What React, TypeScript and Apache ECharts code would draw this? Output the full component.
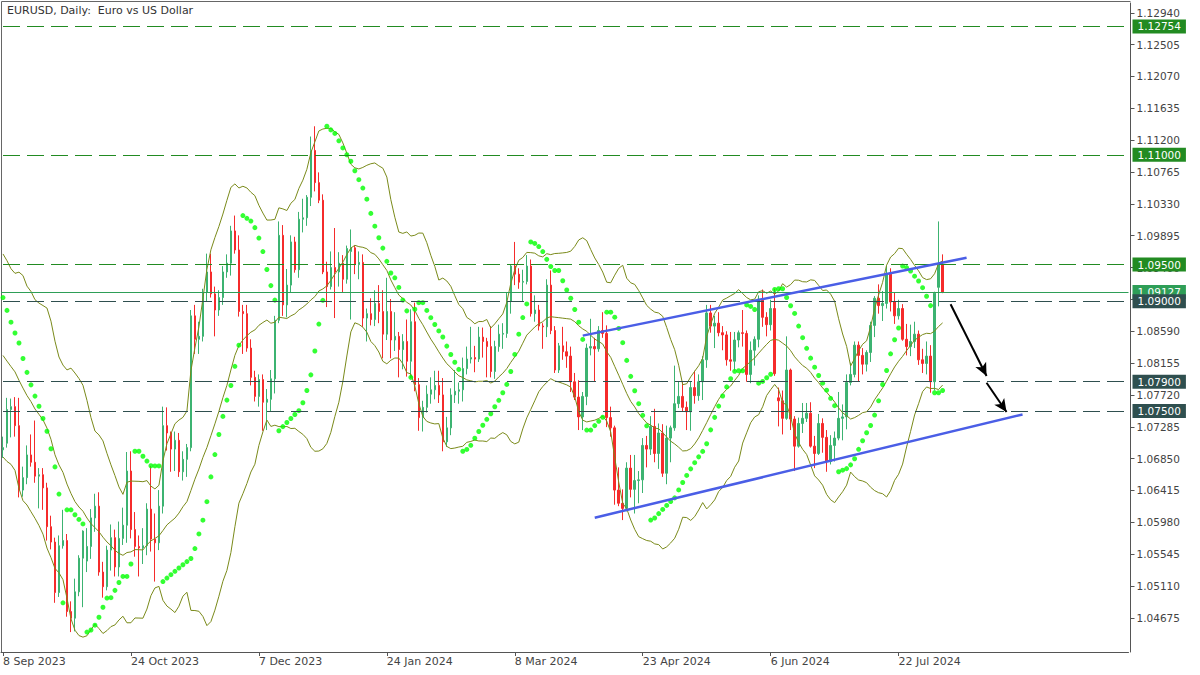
import React, { useEffect, useRef } from 'react';
import * as echarts from 'echarts';

// ---- daily OHLC (EURUSD, from 8 Sep 2023) ----
const opens = [
  1.0697, 1.0706, 1.0752, 1.0756, 1.0730, 1.0642, 1.0659, 1.0690, 1.0680, 1.0661,
  1.0663, 1.0645, 1.0592, 1.0571, 1.0502, 1.0566, 1.0573, 1.0476, 1.0467, 1.0503,
  1.0549, 1.0545, 1.0565, 1.0604, 1.0620, 1.0530, 1.0510, 1.0560, 1.0577, 1.0537,
  1.0576, 1.0594, 1.0668, 1.0588, 1.0565, 1.0563, 1.0566, 1.0616, 1.0575, 1.0570,
  1.0620, 1.0730, 1.0720, 1.0698, 1.0710, 1.0667, 1.0684, 1.0700, 1.0880, 1.0848,
  1.0852, 1.0912, 1.0940, 1.0910, 1.0888, 1.0905, 1.0940, 1.0952, 1.0996, 1.0970,
  1.0886, 1.0883, 1.0836, 1.0796, 1.0770, 1.0793, 1.0762, 1.0766, 1.0794, 1.0874,
  1.0990, 1.0895, 1.0922, 1.0981, 1.0943, 1.1012, 1.1014, 1.1042, 1.1106, 1.1062,
  1.1038, 1.0940, 1.0920, 1.0946, 1.0940, 1.0952, 1.0930, 1.0968, 1.0973, 1.0950,
  1.0953, 1.0877, 1.0883, 1.0875, 1.0897, 1.0886, 1.0855, 1.0886, 1.0847, 1.0852,
  1.0834, 1.0845, 1.0818, 1.0872, 1.0786, 1.0741, 1.0755, 1.0773, 1.0779, 1.0785,
  1.0772, 1.0708, 1.0727, 1.0772, 1.0777, 1.0779, 1.0808, 1.0821, 1.0823, 1.0821,
  1.0851, 1.0845, 1.0838, 1.0804, 1.0838, 1.0855, 1.0856, 1.0900, 1.0948, 1.0937,
  1.0926, 1.0927, 1.0948, 1.0883, 1.0888, 1.0866, 1.0865, 1.0922, 1.0860, 1.0806,
  1.0839, 1.0831, 1.0825, 1.0790, 1.0769, 1.0742, 1.0770, 1.0836, 1.0838, 1.0835,
  1.0860, 1.0856, 1.0741, 1.0727, 1.0642, 1.0624, 1.0617, 1.0672, 1.0643, 1.0655,
  1.0656, 1.0703, 1.0698, 1.0729, 1.0692, 1.0720, 1.0665, 1.0713, 1.0727, 1.0760,
  1.0770, 1.0755, 1.0749, 1.0782, 1.0771, 1.0790, 1.0820, 1.0884, 1.0866, 1.0870,
  1.0857, 1.0854, 1.0820, 1.0818, 1.0847, 1.0857, 1.0856, 1.0800, 1.0833, 1.0848,
  1.0903, 1.0878, 1.0868, 1.0890, 1.0768, 1.0764, 1.0740, 1.0806, 1.0739, 1.0702,
  1.0733, 1.0740, 1.0747, 1.0702, 1.0692, 1.0733, 1.0714, 1.0681, 1.0703, 1.0713,
  1.0740, 1.0742, 1.0789, 1.0800, 1.0840, 1.0826, 1.0814, 1.0830, 1.0867, 1.0904,
  1.0894, 1.0897, 1.0937, 1.0899, 1.0880, 1.0890, 1.0848, 1.0838, 1.0845, 1.0855,
  1.0820, 1.0815, 1.0825, 1.0790, 1.0919, 1.0950,
];
const highs = [
  1.0715, 1.0768, 1.0767, 1.0769, 1.0768, 1.0674, 1.0703, 1.0718, 1.0737, 1.0672,
  1.0672, 1.0652, 1.0607, 1.0577, 1.0580, 1.0615, 1.0582, 1.0490, 1.0521, 1.0553,
  1.0587, 1.0590, 1.0616, 1.0637, 1.0639, 1.0544, 1.0566, 1.0595, 1.0588, 1.0599,
  1.0618, 1.0694, 1.0695, 1.0612, 1.0580, 1.0590, 1.0624, 1.0675, 1.0610, 1.0642,
  1.0756, 1.0755, 1.0722, 1.0722, 1.0720, 1.0695, 1.0705, 1.0888, 1.0895, 1.0872,
  1.0917, 1.0965, 1.0965, 1.0920, 1.0915, 1.0948, 1.0964, 1.1003, 1.1017, 1.0990,
  1.0895, 1.0895, 1.0848, 1.0805, 1.0800, 1.0800, 1.0780, 1.0806, 1.0880, 1.1009,
  1.1004, 1.0944, 1.0990, 1.0988, 1.1022, 1.1040, 1.1045, 1.1125, 1.1139, 1.1076,
  1.1046, 1.0954, 1.0968, 1.1000, 1.0967, 1.0963, 1.0976, 1.0998, 1.0976, 1.0968,
  1.0964, 1.0890, 1.0904, 1.0915, 1.0922, 1.0915, 1.0932, 1.0903, 1.0885, 1.0858,
  1.0855, 1.0875, 1.0889, 1.0898, 1.0795, 1.0764, 1.0785, 1.0796, 1.0805, 1.0805,
  1.0795, 1.0742, 1.0781, 1.0806, 1.0789, 1.0823, 1.0838, 1.0865, 1.0839, 1.0865,
  1.0864, 1.0850, 1.0866, 1.0846, 1.0868, 1.0870, 1.0912, 1.0950, 1.0981, 1.0945,
  1.0943, 1.0963, 1.0957, 1.0908, 1.0895, 1.0870, 1.0930, 1.0942, 1.0866, 1.0843,
  1.0865, 1.0845, 1.0838, 1.0802, 1.0792, 1.0776, 1.0842, 1.0876, 1.0850, 1.0866,
  1.0885, 1.0867, 1.0756, 1.0730, 1.0673, 1.0643, 1.0680, 1.0690, 1.0690, 1.0668,
  1.0713, 1.0716, 1.0743, 1.0753, 1.0733, 1.0732, 1.0730, 1.0730, 1.0812, 1.0790,
  1.0791, 1.0763, 1.0790, 1.0805, 1.0800, 1.0825, 1.0895, 1.0895, 1.0880, 1.0885,
  1.0866, 1.0859, 1.0858, 1.0858, 1.0860, 1.0888, 1.0860, 1.0845, 1.0852, 1.0908,
  1.0916, 1.0885, 1.0902, 1.0917, 1.0782, 1.0778, 1.0852, 1.0808, 1.0743, 1.0741,
  1.0761, 1.0761, 1.0762, 1.0716, 1.0746, 1.0740, 1.0724, 1.0717, 1.0722, 1.0776,
  1.0759, 1.0800, 1.0816, 1.0845, 1.0845, 1.0836, 1.0833, 1.0872, 1.0907, 1.0923,
  1.0914, 1.0948, 1.0945, 1.0912, 1.0902, 1.0896, 1.0869, 1.0868, 1.0872, 1.0860,
  1.0835, 1.0845, 1.0840, 1.0913, 1.1009, 1.0964,
];
const lows = [
  1.0686, 1.0700, 1.0714, 1.0715, 1.0632, 1.0633, 1.0650, 1.0674, 1.0652, 1.0617,
  1.0615, 1.0573, 1.0561, 1.0488, 1.0496, 1.0562, 1.0469, 1.0448, 1.0449, 1.0497,
  1.0482, 1.0530, 1.0548, 1.0585, 1.0525, 1.0495, 1.0505, 1.0532, 1.0524, 1.0524,
  1.0567, 1.0570, 1.0576, 1.0551, 1.0524, 1.0541, 1.0553, 1.0558, 1.0517, 1.0560,
  1.0610, 1.0696, 1.0667, 1.0668, 1.0660, 1.0655, 1.0660, 1.0695, 1.0828, 1.0828,
  1.0845, 1.0900, 1.0905, 1.0852, 1.0880, 1.0895, 1.0932, 1.0935, 1.0965, 1.0879,
  1.0828, 1.0831, 1.0785, 1.0763, 1.0756, 1.0723, 1.0724, 1.0750, 1.0774, 1.0870,
  1.0880, 1.0878, 1.0912, 1.0939, 1.0932, 1.0994, 1.1003, 1.1030, 1.1050, 1.1034,
  1.0937, 1.0892, 1.0916, 1.0877, 1.0920, 1.0912, 1.0924, 1.0875, 1.0937, 1.0930,
  1.0865, 1.0845, 1.0867, 1.0866, 1.0870, 1.0822, 1.0847, 1.0822, 1.0832, 1.0796,
  1.0807, 1.0797, 1.0795, 1.0777, 1.0723, 1.0722, 1.0748, 1.0760, 1.0766, 1.0761,
  1.0695, 1.0701, 1.0717, 1.0761, 1.0760, 1.0763, 1.0800, 1.0815, 1.0803, 1.0817,
  1.0823, 1.0796, 1.0796, 1.0794, 1.0831, 1.0835, 1.0850, 1.0883, 1.0922, 1.0917,
  1.0900, 1.0923, 1.0879, 1.0872, 1.0860, 1.0835, 1.0851, 1.0855, 1.0802, 1.0802,
  1.0820, 1.0809, 1.0776, 1.0765, 1.0724, 1.0724, 1.0758, 1.0826, 1.0791, 1.0831,
  1.0850, 1.0728, 1.0715, 1.0622, 1.0620, 1.0601, 1.0613, 1.0632, 1.0610, 1.0624,
  1.0638, 1.0673, 1.0690, 1.0680, 1.0671, 1.0660, 1.0650, 1.0680, 1.0723, 1.0754,
  1.0749, 1.0724, 1.0723, 1.0760, 1.0764, 1.0765, 1.0809, 1.0857, 1.0836, 1.0852,
  1.0833, 1.0812, 1.0805, 1.0805, 1.0837, 1.0838, 1.0790, 1.0788, 1.0812, 1.0837,
  1.0865, 1.0852, 1.0860, 1.0798, 1.0729, 1.0718, 1.0738, 1.0724, 1.0668, 1.0700,
  1.0720, 1.0735, 1.0700, 1.0672, 1.0690, 1.0693, 1.0667, 1.0677, 1.0681, 1.0710,
  1.0710, 1.0725, 1.0785, 1.0796, 1.0791, 1.0800, 1.0804, 1.0817, 1.0851, 1.0883,
  1.0873, 1.0890, 1.0886, 1.0869, 1.0875, 1.0846, 1.0826, 1.0825, 1.0836, 1.0813,
  1.0802, 1.0800, 1.0775, 1.0778, 1.0893, 1.0911,
];
const closes = [
  1.0700, 1.0752, 1.0756, 1.0730, 1.0642, 1.0659, 1.0690, 1.0680, 1.0661, 1.0663,
  1.0645, 1.0592, 1.0571, 1.0502, 1.0566, 1.0573, 1.0476, 1.0467, 1.0503, 1.0549,
  1.0586, 1.0565, 1.0604, 1.0620, 1.0530, 1.0510, 1.0560, 1.0577, 1.0537, 1.0576,
  1.0594, 1.0668, 1.0588, 1.0565, 1.0563, 1.0566, 1.0616, 1.0575, 1.0570, 1.0620,
  1.0730, 1.0720, 1.0698, 1.0710, 1.0667, 1.0684, 1.0700, 1.0880, 1.0848, 1.0852,
  1.0912, 1.0940, 1.0910, 1.0888, 1.0905, 1.0940, 1.0952, 1.0996, 1.0970, 1.0886,
  1.0883, 1.0836, 1.0796, 1.0770, 1.0793, 1.0762, 1.0766, 1.0794, 1.0874, 1.0990,
  1.0895, 1.0922, 1.0981, 1.0943, 1.1012, 1.1014, 1.1042, 1.1106, 1.1062, 1.1038,
  1.0940, 1.0920, 1.0946, 1.0940, 1.0952, 1.0930, 1.0972, 1.0973, 1.0950, 1.0953,
  1.0877, 1.0883, 1.0875, 1.0897, 1.0886, 1.0855, 1.0886, 1.0847, 1.0852, 1.0834,
  1.0845, 1.0818, 1.0872, 1.0786, 1.0741, 1.0755, 1.0773, 1.0779, 1.0785, 1.0772,
  1.0708, 1.0727, 1.0772, 1.0777, 1.0779, 1.0808, 1.0821, 1.0823, 1.0821, 1.0851,
  1.0845, 1.0838, 1.0804, 1.0838, 1.0855, 1.0856, 1.0900, 1.0948, 1.0937, 1.0926,
  1.0927, 1.0948, 1.0883, 1.0888, 1.0866, 1.0865, 1.0922, 1.0860, 1.0806, 1.0839,
  1.0831, 1.0825, 1.0790, 1.0769, 1.0742, 1.0770, 1.0836, 1.0838, 1.0835, 1.0860,
  1.0856, 1.0741, 1.0727, 1.0642, 1.0624, 1.0617, 1.0672, 1.0643, 1.0655, 1.0656,
  1.0703, 1.0698, 1.0729, 1.0692, 1.0720, 1.0665, 1.0713, 1.0727, 1.0760, 1.0770,
  1.0755, 1.0749, 1.0782, 1.0771, 1.0790, 1.0820, 1.0884, 1.0866, 1.0870, 1.0857,
  1.0854, 1.0820, 1.0818, 1.0847, 1.0857, 1.0856, 1.0800, 1.0833, 1.0848, 1.0903,
  1.0878, 1.0868, 1.0890, 1.0801, 1.0764, 1.0740, 1.0806, 1.0739, 1.0702, 1.0733,
  1.0740, 1.0747, 1.0702, 1.0692, 1.0733, 1.0714, 1.0681, 1.0703, 1.0713, 1.0740,
  1.0742, 1.0789, 1.0800, 1.0840, 1.0826, 1.0814, 1.0830, 1.0867, 1.0904, 1.0894,
  1.0897, 1.0937, 1.0899, 1.0880, 1.0890, 1.0848, 1.0838, 1.0845, 1.0855, 1.0820,
  1.0815, 1.0825, 1.0790, 1.0911, 1.0950, 1.09127,
];
// closes of the 19 sessions before 8 Sep 2023 (Bollinger warm-up)
const priorCloses = [
  1.0906, 1.0905, 1.0875, 1.0873, 1.0872, 1.0894, 1.0845, 1.0863, 1.0808, 1.0796,
  1.0817, 1.0880, 1.0923, 1.0843, 1.0776, 1.0796, 1.0723, 1.0726, 1.0697,
];

const yTicks = [
  1.04675, 1.0511, 1.05545, 1.0598, 1.06415, 1.0685, 1.07285, 1.0772, 1.08155, 1.0859,
  1.09025, 1.0946, 1.09895, 1.1033, 1.10765, 1.112, 1.11635, 1.1207, 1.12505, 1.1294,
];
const levelValues = [1.12754, 1.11, 1.095, 1.09, 1.079, 1.075];
const levelKinds = ['g', 'g', 'g', 'd', 'd', 'd'];
const currentPrice = 1.09127;
// channel lines & arrows: [barIndex, price]
const upperChannel = [[145, 1.0853], [241, 1.09595]];
const lowerChannel = [[148, 1.06043], [255, 1.07453]];
const arrow1 = [[237, 1.08958], [246, 1.07978]];
const arrow2 = [[246, 1.07887], [251, 1.07486]];

const TOTAL_SLOTS = 282;
const MONTHS = ['Jan', 'Feb', 'Mar', 'Apr', 'May', 'Jun', 'Jul', 'Aug', 'Sep', 'Oct', 'Nov', 'Dec'];
const FONT = 'DejaVu Sans';

function tradingDates(count: number): string[] {
  const out: string[] = [];
  const d = new Date(Date.UTC(2023, 8, 8));
  while (out.length < count) {
    const wd = d.getUTCDay();
    const m = d.getUTCMonth();
    const day = d.getUTCDate();
    const holiday = (m === 11 && day === 25) || (m === 0 && day === 1);
    if (wd !== 0 && wd !== 6 && !holiday) out.push(`${day} ${MONTHS[m]} ${d.getUTCFullYear()}`);
    d.setUTCDate(day + 1);
  }
  return out;
}

function bollinger(period: number, k: number) {
  const all = priorCloses.concat(closes);
  const off = priorCloses.length;
  const up: number[] = [], mid: number[] = [], lo: number[] = [];
  for (let i = 0; i < closes.length; i++) {
    const end = i + off;
    const win = all.slice(end - period + 1, end + 1);
    const m = win.reduce((a, b) => a + b, 0) / win.length;
    const sd = Math.sqrt(win.reduce((a, b) => a + (b - m) * (b - m), 0) / win.length);
    mid.push(m); up.push(m + k * sd); lo.push(m - k * sd);
  }
  return { up, mid, lo };
}

function parabolicSar(step: number, maxAf: number) {
  const out: number[] = [];
  let upTrend = false;
  let sar = 1.0905, ep = lows[0], af = 0.08;
  out.push(sar);
  for (let i = 1; i < highs.length; i++) {
    let next = sar + af * (ep - sar);
    if (upTrend) {
      next = Math.min(next, lows[i - 1], i > 1 ? lows[i - 2] : lows[i - 1]);
      if (lows[i] < next) { upTrend = false; next = ep; ep = lows[i]; af = step; }
      else if (highs[i] > ep) { ep = highs[i]; af = Math.min(af + step, maxAf); }
    } else {
      next = Math.max(next, highs[i - 1], i > 1 ? highs[i - 2] : highs[i - 1]);
      if (highs[i] > next) { upTrend = true; next = ep; ep = highs[i]; af = step; }
      else if (lows[i] < ep) { ep = lows[i]; af = Math.min(af + step, maxAf); }
    }
    sar = next;
    out.push(sar);
  }
  return out;
}

export default function App() {
  const ref = useRef<HTMLDivElement>(null);
  useEffect(() => {
    document.body.style.margin = '0';
    if (!ref.current) return;
    const chart = echarts.init(ref.current, null, { renderer: 'svg' });
    const dates = tradingDates(TOTAL_SLOTS);
    const bb = bollinger(20, 2);
    const sar = parabolicSar(0.02, 0.2);
    const labelIdx = (i: number) => i % 32 === 0 && i < closes.length;
    const GREEN = '#228b22';
    const DARK = '#2f4f4f';
    const BAND = '#7a8a1a';

    const levelSeries = levelValues.map((v, i) => {
      const c = levelKinds[i] === 'g' ? GREEN : DARK;
      return {
        type: 'line', data: [], silent: true, z: 6 + i,
        markLine: {
          silent: true, symbol: ['none', 'none'], animation: false, precision: 5,
          lineStyle: { color: c, width: 1.1, type: [17, 7], dashOffset: -2 },
          label: {
            show: true, position: 'end', distance: 4, formatter: v.toFixed(5),
            color: '#fff', backgroundColor: c, padding: [1, 5], lineHeight: 12,
            fontSize: 10.5, fontFamily: FONT,
          },
          emphasis: { disabled: true },
          data: [{ yAxis: v }],
        },
      };
    });

    const segLine = (pts: number[][], color: string, width: number, arrow: boolean, z: number) => ({
      type: 'line', data: [], silent: true, z,
      markLine: {
        silent: true, animation: false, precision: 5,
        symbol: arrow ? ['none', 'arrow'] : ['none', 'none'],
        symbolSize: arrow ? [9, 13] : 0,
        lineStyle: { color, width, type: 'solid' },
        label: { show: false },
        emphasis: { disabled: true },
        data: [[{ coord: pts[0] }, { coord: pts[1] }]],
      },
    });

    chart.setOption({
      animation: false,
      backgroundColor: '#ffffff',
      grid: { left: 0.5, top: 3, width: 1128, height: 649, containLabel: false },
      xAxis: {
        type: 'category', data: dates, boundaryGap: true,
        axisLine: { show: true, lineStyle: { color: '#555', width: 1 } },
        axisTick: { show: true, alignWithLabel: true, interval: labelIdx, length: 4, lineStyle: { color: '#555' } },
        axisLabel: { interval: labelIdx, align: 'left', color: '#444', fontSize: 11, fontFamily: FONT, margin: 4 },
        splitLine: { show: false },
      },
      yAxis: {
        type: 'value', position: 'right', offset: 2, min: 1.04208, max: 1.13074, scale: true,
        splitLine: { show: false },
        axisLine: { show: true, lineStyle: { color: '#555', width: 1 } },
        axisTick: { show: true, length: 4, customValues: yTicks, lineStyle: { color: '#555' } },
        axisLabel: {
          customValues: yTicks, formatter: (v: number) => v.toFixed(5),
          color: '#444', fontSize: 10.5, fontFamily: FONT, margin: 6,
        },
      },
      graphic: [
        { type: 'line', shape: { x1: 1.5, y1: 1.5, x2: 1130.5, y2: 1.5 }, style: { stroke: '#666', lineWidth: 1 }, silent: true },
        { type: 'line', shape: { x1: 1.5, y1: 1.5, x2: 1.5, y2: 652 }, style: { stroke: '#666', lineWidth: 1 }, silent: true },
        {
          type: 'text', left: 7, top: 5, silent: true,
          style: { text: 'EURUSD, Daily:  Euro vs US Dollar', fill: '#333', fontSize: 11, fontFamily: FONT },
        },
      ],
      series: [
        {
          type: 'candlestick', z: 2, barWidth: 2,
          itemStyle: { color: '#3cb371', color0: '#f52b2b', borderColor: '#3cb371', borderColor0: '#f52b2b', borderWidth: 1 },
          data: opens.map((o, i) => [o, closes[i], lows[i], highs[i]]),
        },
        { type: 'line', z: 3, data: bb.up, symbol: 'none', silent: true, lineStyle: { color: BAND, width: 1 } },
        { type: 'line', z: 3, data: bb.mid, symbol: 'none', silent: true, lineStyle: { color: BAND, width: 1 } },
        { type: 'line', z: 3, data: bb.lo, symbol: 'none', silent: true, lineStyle: { color: BAND, width: 1 } },
        { type: 'scatter', z: 4, data: sar, symbolSize: 5, silent: true, itemStyle: { color: '#00ff00' } },
        {
          type: 'line', data: [], silent: true, z: 5,
          markLine: {
            silent: true, symbol: ['none', 'none'], animation: false, precision: 5,
            lineStyle: { color: '#2e9e57', width: 1, type: 'solid' },
            label: {
              show: true, position: 'end', distance: 4, formatter: currentPrice.toFixed(5),
              color: '#fff', backgroundColor: '#2e9e57', padding: [1, 5], lineHeight: 12,
              fontSize: 10.5, fontFamily: FONT,
            },
            emphasis: { disabled: true },
            data: [{ yAxis: currentPrice }],
          },
        },
        ...levelSeries,
        segLine(upperChannel, '#4a5ee6', 2.5, false, 20),
        segLine(lowerChannel, '#4a5ee6', 2.5, false, 20),
        segLine(arrow1, '#000000', 2, true, 21),
        segLine(arrow2, '#000000', 2, true, 21),
      ],
    });
    return () => chart.dispose();
  }, []);
  return <div ref={ref} style={{ position: 'absolute', left: 0, top: 0, width: 1200, height: 675 }} />;
}
